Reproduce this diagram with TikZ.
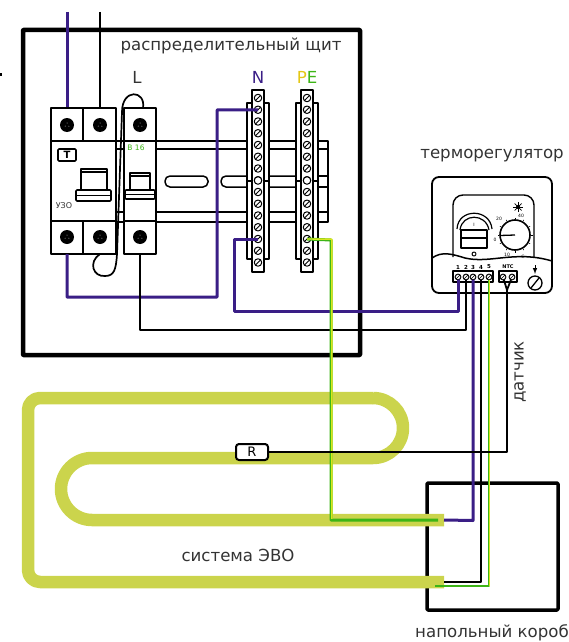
\documentclass[tikz,border=0pt]{standalone}
\usepackage{fontspec}
\usetikzlibrary{calc}
\setmainfont{DejaVu Sans}
\definecolor{wirepurple}{HTML}{3A1E86}
\definecolor{cablecol}{HTML}{CBD44C}
\definecolor{wiregreen}{HTML}{3DB516}
\definecolor{wireyellow}{HTML}{D8E61E}
\definecolor{labelcol}{HTML}{333333}
\begin{document}
\begin{tikzpicture}[x=1pt,y=-1pt,line join=round,
  txt/.style={text=labelcol,font=\fontsize{16.6}{17}\selectfont,inner sep=0},
  tiny/.style={font=\fontsize{4.5}{5}\selectfont,inner sep=0},
  bigscrew/.style={circle,fill=black,minimum size=14pt,inner sep=0},
  smallscrew/.style={circle,draw,fill=white,line width=1pt,minimum size=7.5pt,inner sep=0},
  blockscrew/.style={circle,draw,fill=white,line width=0.7pt,minimum size=6pt,inner sep=0},
  purplewire/.style={draw,color=wirepurple,line width=3pt},
  blackwire/.style={draw,color=black,line width=2.8pt},
  rail/.style={draw,line width=1.5pt},
  device/.style={draw,fill=white,line width=1.9pt}]
\useasboundingbox (0,0) rectangle (569,642);
\fill[black] (0,73) rectangle (2,75.5);

% panel
\draw[line width=4.5pt,rounded corners=0.5pt] (23,30) rectangle (360,355);
\node[txt] (title) at (231,46) {распределительный щит};
\node[txt] (l) at (137,77) {L};
\node[txt,text=wirepurple] (n) at (258,77) {N};
\node[txt] (pe) at (307,77) {\textcolor{wireyellow!70!orange}{P}\textcolor{wiregreen}{E}};

% din rail
\path[rail] (110,141) -- (328,141) -- (328,222) -- (110,222);
\path[rail] (110,149) -- (328,149);
\path[rail] (110,212) -- (328,212);
\path[rail,rounded corners=5pt] (165,176) rectangle (208,187);
\path[rail,rounded corners=5pt] (296,176) -- (221,176) -- (221,187) -- (296,187);
\path[rail] (328,176) -- (318,176);
\path[rail] (328,187) -- (318,187);

% incoming wires
\coordinate (in1) at (67,12);
\coordinate (in2) at (100,12);
\coordinate (u1t) at (67,110);
\coordinate (u2t) at (100,110);
\path[purplewire] (in1) -- (u1t);
\path[blackwire] (in2) -- (u2t);

% uzo
\path[device] (51,108) rectangle (116,254);
\draw[line width=1.9pt] (83,108) -- (83,141);
\draw[line width=1.9pt] (83,221) -- (83,254);
\draw[line width=1.9pt] (51,141) -- (116,141);
\draw[line width=1.9pt] (51,221) -- (116,221);
\node[bigscrew] (u1) at (67,125) {};
\node[bigscrew] (u2) at (100,125) {};
\node[bigscrew] (u3) at (67,237) {};
\node[bigscrew] (u4) at (100,237) {};
\node[draw,line width=1.6pt,rounded corners=1pt,minimum width=18pt,minimum height=12pt,inner sep=0,font=\bfseries\fontsize{10}{10}\selectfont] (t) at (67,155) {T};
\draw[line width=1.6pt] (81,190) -- (81,169) -- (107,169) -- (107,190);
\draw[line width=1.6pt] (81,172) -- (107,172);
\draw[line width=1.6pt,rounded corners=1pt] (76,190) rectangle (111,201);
\draw[line width=1pt] (76,195) -- (111,195);
\node[tiny,font=\fontsize{8}{8}\selectfont,text=labelcol] (uzo) at (64,206) {УЗО};

% mcb
\path[device] (124,108) rectangle (156,254);
\draw[line width=1.9pt] (124,141) -- (156,141);
\draw[line width=1.9pt] (124,221) -- (156,221);
\node[bigscrew] (m1) at (140,125) {};
\node[bigscrew] (m2) at (140,237) {};
\node[tiny,font=\fontsize{7.5}{8}\selectfont,text=wiregreen] (b16) at (136,148) {B 16};
\draw[line width=1.6pt] (130,190) -- (130,173) -- (150,173) -- (150,190);
\draw[line width=1.6pt] (130,176) -- (150,176);
\draw[line width=1.6pt,rounded corners=1pt] (125,190) rectangle (155,199);
\draw[line width=1pt] (125,194) -- (155,194);
\foreach \i in {u1,u2,u3,u4,m1,m2}{
  \fill[white!70!black] ($(\i)+(0,-2)$) circle (0.5);
  \fill[white!70!black] ($(\i)+(-1.8,1.2)$) circle (0.5);
  \fill[white!70!black] ($(\i)+(1.8,1.2)$) circle (0.5);
}

% jumpers
\coordinate (j1) at (117,254);
\coordinate (j2) at (143,108);
\coordinate (j3) at (100,254);
\draw[line width=1.7pt] (j1) -- (122,112) .. controls (122,88) and (146,90) .. (j2);
\draw[line width=1.7pt] (j3) .. controls (88,262) and (93,277) .. (105,276) .. controls (114,276) and (116,270) .. (j1);

% terminal bars
\foreach \name/\xc in {n/258,p/307}{
  \path[device,line width=1.3pt] (\xc-11,103) rectangle (\xc+11,259);
  \draw[line width=1.3pt] (\xc-11,181) -- (\xc+11,181);
  \path[device,line width=1.5pt] (\xc-6,90) rectangle (\xc+6,272);
  \foreach \i in {1,...,15}{
    \node[smallscrew] (\name\i) at (\xc,98+11.75*\i-11.75) {};
    \draw[line width=0.8pt] (\xc-2.6,98+11.75*\i-11.75+2.6) -- (\xc+2.6,98+11.75*\i-11.75-2.6);
  }
  \node[smallscrew] (\name w) at (\xc,180.5) {};
}

% cable
\coordinate (c1) at (444,520);
\coordinate (c2) at (444,582);
\draw[line width=3.5pt,rounded corners=1pt] (427,483) rectangle (558,610);
\draw[color=cablecol,line width=12.5pt,rounded corners=12pt] (c2) -- (28,582) -- (28,398) -- (373,398);
\draw[color=cablecol,line width=12.5pt] (373,398) .. controls (389.6,398) and (403,411.4) .. (403,428) .. controls (403,444.6) and (389.6,458) .. (373,458) -- (92,458) .. controls (75,458) and (61,472) .. (61,489) .. controls (61,506) and (75,520) .. (92,520) -- (c1);

% thermostat
\draw[line width=1.8pt,rounded corners=7pt] (432,177) rectangle (552,293);
\draw[line width=1.4pt,rounded corners=10pt] (453,257) -- (453,195) -- (534,195) -- (534,257);
\draw[line width=1.5pt] (432,258) .. controls (442,251) and (452,254) .. (465,258) .. controls (490,264) and (515,250) .. (552,261);
\draw[line width=1.2pt] (457,229) .. controls (458,208) and (490,208) .. (492,229);
\draw[line width=1.2pt] (460,230) .. controls (462,213) and (486,213) .. (489,230);
\draw[line width=1.2pt] (461,230) rectangle (487,248);
\draw[line width=2pt] (461,238) -- (487,238);
\node[tiny] (sw1) at (474,225) {I};
\draw[line width=1pt] (474,254) circle (2);
\draw[line width=1.6pt] (515,235) circle (15);
\foreach \a in {0,30,...,330}{
  \draw[line width=0.5pt] (515,235)++(\a:16) -- ++(\a:1.5);
}
\draw[line width=1.3pt] (500,235.5) -- (515,235);
\fill (518,207) circle (2);
\draw[line width=0.7pt] (513,207) -- (523,207);
\draw[line width=0.7pt] (518,202) -- (518,212);
\draw[line width=0.7pt] (514.5,203.5) -- (521.5,210.5);
\draw[line width=0.7pt] (514.5,210.5) -- (521.5,203.5);
\node[tiny] (s20) at (499,219) {20};
\node[tiny] (s40) at (521,216) {40};
\node[tiny] (s0) at (495,240) {0};
\node[tiny] (s10) at (507,255) {10};
\node[tiny] (sc) at (523,257) {C};
\draw[line width=1.3pt] (453,271) rectangle (493,282);
\draw[line width=1.3pt] (499,271) rectangle (517,282);
\foreach \i/\xc in {1/458,2/466,3/473,4/481,5/489}{
  \node[tiny,font=\bfseries\fontsize{5.5}{6}\selectfont] (lab\i) at (\xc,267) {\i};
}
\node[tiny,font=\bfseries\fontsize{5}{6}\selectfont] (labntc) at (508,267) {NTC};
\draw[line width=1pt,-latex] (535,265) -- (535,274);
\draw[line width=1.3pt] (535,283) circle (7);
\draw[line width=1.3pt] (531,288) -- (539,278);

% connections to the thermostat
\coordinate (u3b) at (67,254);
\coordinate (m2b) at (140,254);
\coordinate (a1) at (67,297);
\coordinate (a2) at (217,297);
\coordinate (b1) at (234,311);
\coordinate (d1) at (140,330);
\coordinate (e1) at (473,520.5);
\coordinate (f1) at (481,582);
\coordinate (g1) at (489,586);
\coordinate (g0) at (435,586);
\coordinate (h1) at (331,240);
\coordinate (h2) at (331,520);
\coordinate (h0) at (438,520);
\coordinate (k1) at (507,290);
\coordinate (k2) at (507,452);
\node[blockscrew] (t1) at (458,277) {};
\node[blockscrew] (t2) at (466,277) {};
\node[blockscrew] (t3) at (473,277) {};
\node[blockscrew] (t4) at (481,277) {};
\node[blockscrew] (t5) at (489,277) {};
\node[blockscrew] (s1) at (503,277) {};
\node[blockscrew] (s2) at (512,277) {};
\node[draw,line width=2pt,rounded corners=3pt,fill=white,minimum width=32pt,minimum height=16pt,inner sep=0,font=\fontsize{13}{13}\selectfont] (r) at (252,452) {R};

\path[purplewire] (u3b) -- (a1) -- (a2) -- (217,110) -- (n2.center);
\path[purplewire] (n13.center) -| (b1) -- (458,311) -- (t1.center);
\path[blackwire] (m2b) -- (d1) -- (466,330) -- (t2.center);
\path[purplewire] (t3.center) -- (e1) -- (c1);
\path[blackwire] (t4.center) -- (f1) -- (c2);
\path[draw,color=wiregreen,line width=2.4pt] (t5.center) -- (g1) -- (g0);
\path[draw,color=wireyellow,line width=1.1pt] (489.6,279) -- (489.6,586);
\path[draw,color=wiregreen,line width=3pt] (p13.center) -- (h1) -- (h2) -- (h0);
\path[draw,color=wireyellow,line width=1.4pt] (p13.center) -- (331.8,239.2) -- (331.8,518.8);
\path[blackwire,line width=1.8pt] (s1.center) -- (k1) -- (s2.center);
\path[blackwire] (k1) -- (k2) -- (r.east);
\foreach \i in {t1,t2,t3,t4,t5,s1,s2}{
  \draw[line width=0.6pt,fill=white] (\i) circle (2.6);
  \draw[line width=0.6pt] ($(\i)+(-1.8,1.8)$) -- ($(\i)+(1.8,-1.8)$);
}

\node[txt] (evo) at (238,555) {система ЭВО};
\node[txt] (therm) at (492,156) {терморегулятор};
\node[txt,rotate=90] (sens) at (520,372) {датчик};
\node[txt] (box) at (492,632.5) {напольный короб};
\end{tikzpicture}
\end{document}
